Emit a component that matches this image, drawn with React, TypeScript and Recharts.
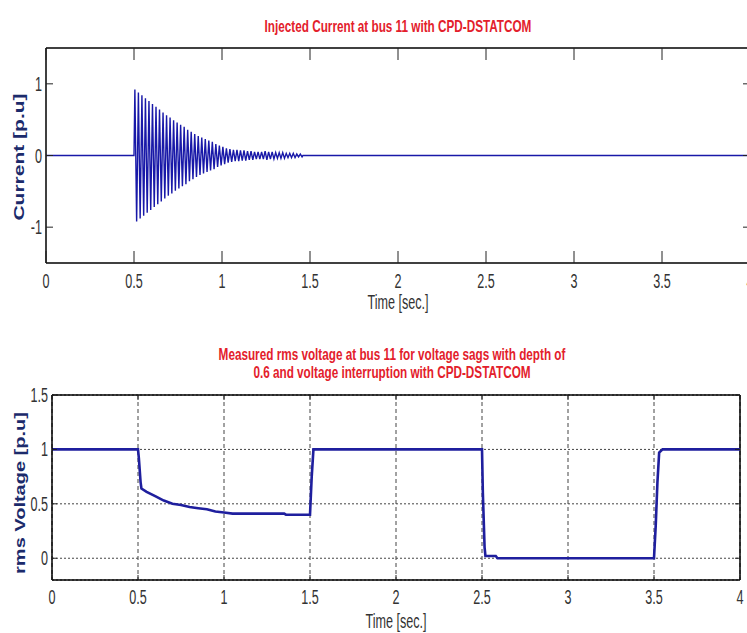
import React from "react";
import { LineChart, Line, XAxis, YAxis, CartesianGrid, ReferenceLine } from "recharts";

const FONT = "'Liberation Sans', Arial, sans-serif";

const TIME_TICKS = [0, 0.5, 1, 1.5, 2, 2.5, 3, 3.5, 4];
const CURRENT_TICKS = [-1, 0, 1];
const VOLT_TICKS = [0, 0.5, 1, 1.5];

// injected current: peak amplitude of each 50 Hz cycle from 0.5 s onwards
const OSC_START = 0.5;
const OSC_PERIOD = 0.02;
const CURRENT_PEAKS = [
  0.92, 0.88, 0.84, 0.8, 0.76, 0.72, 0.68, 0.64, 0.6, 0.56,
  0.53, 0.49, 0.46, 0.43, 0.4, 0.36, 0.33, 0.3, 0.27, 0.25,
  0.23, 0.21, 0.19, 0.16, 0.14, 0.12, 0.1, 0.09, 0.08, 0.08,
  0.07, 0.07, 0.06, 0.06, 0.05, 0.05, 0.05, 0.06, 0.05, 0.05,
  0.04, 0.04, 0.04, 0.03, 0.03, 0.03, 0.02, 0.02,
];

// measured rms voltage
const RMS_TIME = [
  0, 0.5, 0.505, 0.515, 0.52, 0.55, 0.6, 0.65, 0.7, 0.75, 0.8, 0.85, 0.9, 0.95,
  1.0, 1.05, 1.35, 1.36, 1.5, 1.51, 1.52, 2.5, 2.505, 2.515, 2.52, 2.58, 2.59,
  3.5, 3.51, 3.52, 3.53, 3.55, 4,
];
const RMS_VALUE = [
  1, 1, 0.92, 0.7, 0.64, 0.61, 0.57, 0.53, 0.5, 0.49, 0.47, 0.46, 0.45, 0.43,
  0.42, 0.41, 0.41, 0.4, 0.4, 0.75, 1.0, 1.0, 0.6, 0.1, 0.02, 0.02, 0.0,
  0.0, 0.3, 0.7, 0.97, 1.0, 1.0,
];

const currentData: { t: number; i: number }[] = [
  { t: 0, i: 0 },
  { t: OSC_START, i: 0 },
];
CURRENT_PEAKS.forEach((a, k) => {
  const t0 = OSC_START + k * OSC_PERIOD;
  currentData.push({ t: t0 + OSC_PERIOD / 4, i: a });
  currentData.push({ t: t0 + (3 * OSC_PERIOD) / 4, i: -a });
});
currentData.push({ t: OSC_START + CURRENT_PEAKS.length * OSC_PERIOD, i: 0 });
currentData.push({ t: 4, i: 0 });

const rmsData = RMS_TIME.map((t, k) => ({ t, v: RMS_VALUE[k] }));

function makeXTick(plotH: number, len: number, dy: number) {
  return (props: any) => {
    const { x, y, payload } = props;
    return (
      <g>
        <line x1={x} x2={x} y1={y} y2={y - len} stroke="#222" />
        <line x1={x} x2={x} y1={y - plotH} y2={y - plotH + len} stroke="#222" />
        <text
          transform={`translate(${x},${y + dy}) scale(0.6,1)`}
          textAnchor="middle"
          fill="#333"
          fontSize={21}
          fontFamily={FONT}
        >
          {payload.value}
        </text>
      </g>
    );
  };
}

function makeYTick(plotW: number, len: number) {
  return (props: any) => {
    const { x, y, payload } = props;
    return (
      <g>
        <line x1={x} x2={x + len} y1={y} y2={y} stroke="#222" />
        <line x1={x + plotW - len} x2={x + plotW} y1={y} y2={y} stroke="#222" />
        <text
          transform={`translate(${x - 4},${y + 7}) scale(0.6,1)`}
          textAnchor="end"
          fill="#333"
          fontSize={21}
          fontFamily={FONT}
        >
          {payload.value}
        </text>
      </g>
    );
  };
}

const titleStyle: React.CSSProperties = {
  position: "absolute",
  whiteSpace: "nowrap",
  color: "#e3202b",
  fontFamily: FONT,
  fontWeight: "bold",
  fontSize: 17,
  lineHeight: "18px",
  textAlign: "center",
  transform: "translateX(-50%) scaleX(0.69)",
};

const xLabelStyle: React.CSSProperties = {
  position: "absolute",
  whiteSpace: "nowrap",
  color: "#333",
  fontFamily: FONT,
  fontSize: 20,
  lineHeight: "20px",
  transform: "translateX(-50%) scaleX(0.63)",
};

const yLabelStyle: React.CSSProperties = {
  position: "absolute",
  whiteSpace: "nowrap",
  color: "#1b2a6b",
  fontFamily: FONT,
  fontWeight: "bold",
  lineHeight: "24px",
  transform: "translate(-50%, -50%) scaleX(0.72) rotate(-90deg)",
};

export default function App() {
  return (
    <div
      style={{
        position: "absolute",
        left: 0,
        top: 0,
        width: 747,
        height: 633,
        overflow: "hidden",
        background: "#fff",
      }}
    >
      {/* top: injected current */}
      <div style={{ position: "absolute", left: 0, top: 0 }}>
        <LineChart width={760} height={310} data={currentData} margin={{ top: 48, right: 10, bottom: 46, left: 45 }}>
          <XAxis
            dataKey="t"
            type="number"
            domain={[0, 4]}
            ticks={TIME_TICKS}
            interval={0}
            height={1}
            allowDataOverflow
            tickSize={0}
            tickMargin={0}
            tickLine={false}
            axisLine={{ stroke: "#000", strokeWidth: 1.5 }}
            tick={makeXTick(215, 12, 25)}
          />
          <YAxis
            type="number"
            domain={[-1.5, 1.5]}
            ticks={CURRENT_TICKS}
            interval={0}
            width={1}
            allowDataOverflow
            tickSize={0}
            tickMargin={0}
            tickLine={false}
            axisLine={{ stroke: "#000", strokeWidth: 1.5 }}
            tick={makeYTick(704, 7)}
          />
          <ReferenceLine y={1.5} stroke="#000" strokeWidth={1.5} />
          <ReferenceLine x={4} stroke="#000" strokeWidth={1.5} />
          <Line
            type="linear"
            dataKey="i"
            stroke="#1818a8"
            strokeWidth={1.4}
            dot={false}
            isAnimationActive={false}
          />
        </LineChart>
      </div>

      <div style={{ ...titleStyle, left: 398, top: 18 }}>Injected Current at bus 11 with CPD-DSTATCOM</div>
      <div style={{ ...xLabelStyle, left: 398, top: 292 }}>Time [sec.]</div>
      <div style={{ ...yLabelStyle, left: 19, top: 157, fontSize: 21 }}>Current [p.u]</div>

      {/* bottom: rms voltage */}
      <div style={{ position: "absolute", left: 0, top: 380 }}>
        <LineChart width={747} height={253} data={rmsData} margin={{ top: 15, right: 7, bottom: 52, left: 51 }}>
          <CartesianGrid horizontal={false} stroke="#444" strokeDasharray="4 3" />
          <CartesianGrid vertical={false} stroke="#444" strokeDasharray="2 2" />
          <XAxis
            dataKey="t"
            type="number"
            domain={[0, 4]}
            ticks={TIME_TICKS}
            interval={0}
            height={1}
            allowDataOverflow
            tickSize={0}
            tickMargin={0}
            tickLine={false}
            axisLine={{ stroke: "#000", strokeWidth: 1.5 }}
            tick={makeXTick(185, 5, 24)}
          />
          <YAxis
            type="number"
            domain={[-0.2, 1.5]}
            ticks={VOLT_TICKS}
            interval={0}
            width={1}
            allowDataOverflow
            tickSize={0}
            tickMargin={0}
            tickLine={false}
            axisLine={{ stroke: "#000", strokeWidth: 1.5 }}
            tick={makeYTick(688, 5)}
          />
          <ReferenceLine y={1.5} stroke="#000" strokeWidth={1.5} />
          <ReferenceLine x={4} stroke="#000" strokeWidth={1.5} />
          <Line
            type="linear"
            dataKey="v"
            stroke="#1f1f9e"
            strokeWidth={2.6}
            dot={false}
            isAnimationActive={false}
          />
        </LineChart>
      </div>

      <div style={{ ...titleStyle, left: 392, top: 346 }}>
        Measured rms voltage at bus 11 for voltage sags with depth of
        <br />
        0.6 and voltage interruption with CPD-DSTATCOM
      </div>
      <div style={{ ...xLabelStyle, left: 396, top: 611 }}>Time [sec.]</div>
      <div style={{ ...yLabelStyle, left: 20, top: 493, fontSize: 20 }}>rms Voltage [p.u]</div>
    </div>
  );
}
